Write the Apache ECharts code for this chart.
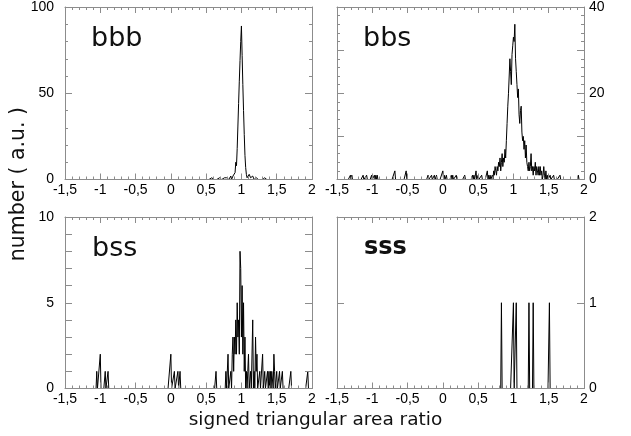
<!DOCTYPE html>
<html>
<head>
<meta charset="utf-8">
<script src="https://cdn.jsdelivr.net/npm/echarts@6/dist/echarts.min.js"></script>
<style>
  html, body { margin: 0; padding: 0; background: #fff; }
  #chart { width: 631px; height: 436px; }
</style>
</head>
<body>
<div id="chart"></div>
<script>
// histogram bins, width 0.01, from -1.5 to 2 ; only the non-empty bins are listed
var xMin = -1.5, xMax = 2;
var xTickStep = 0.5;

var bbbBins = [
  [0.58, 1], [0.62, 1], [0.66, 1], [0.69, 1], [0.73, 1], [0.76, 1], [0.79, 1], [0.81, 2],
  [0.83, 1], [0.85, 2], [0.87, 1], [0.88, 2], [0.89, 1], [0.90, 3], [0.91, 4], [0.92, 10],
  [0.93, 8], [0.94, 18], [0.95, 31], [0.96, 44], [0.97, 57], [0.98, 69], [0.99, 80], [1.00, 89],
  [1.01, 72], [1.02, 55], [1.03, 40], [1.04, 26], [1.05, 14], [1.06, 7], [1.07, 3], [1.08, 1],
  [1.09, 2], [1.10, 1], [1.11, 3], [1.12, 2], [1.13, 1], [1.14, 2], [1.15, 1], [1.16, 2],
  [1.17, 1], [1.19, 1], [1.21, 1], [1.23, 1], [1.26, 1], [1.29, 1], [1.33, 1]
];

var bbsBins = [
  [-1.31, 1], [-1.29, 1], [-1.13, 1], [-1.08, 1], [-1.01, 1], [-0.97, 1], [-0.95, 1], [-0.93, 1],
  [-0.68, 2], [-0.52, 2], [-0.21, 1], [-0.16, 1], [-0.12, 1], [-0.09, 1], [0.00, 2], [0.02, 1],
  [0.05, 1], [0.12, 1], [0.14, 1], [0.19, 1], [0.31, 1], [0.42, 1], [0.44, 1], [0.47, 2],
  [0.50, 1], [0.55, 1], [0.63, 2], [0.65, 1], [0.67, 1], [0.70, 1], [0.72, 2], [0.73, 1],
  [0.74, 3], [0.75, 2], [0.76, 1], [0.77, 3], [0.78, 2], [0.79, 4], [0.80, 3], [0.81, 5],
  [0.82, 2], [0.83, 4], [0.84, 6], [0.85, 3], [0.86, 5], [0.87, 4], [0.88, 7], [0.89, 5],
  [0.90, 9], [0.91, 13], [0.92, 17], [0.93, 20], [0.94, 24], [0.95, 28], [0.96, 25], [0.97, 22],
  [0.98, 29], [0.99, 31], [1.00, 33], [1.01, 32], [1.02, 36], [1.03, 28], [1.04, 25], [1.05, 22],
  [1.06, 19], [1.07, 21], [1.08, 15], [1.09, 13], [1.10, 16], [1.11, 17], [1.12, 11], [1.13, 9],
  [1.14, 10], [1.15, 7], [1.16, 9], [1.17, 5], [1.18, 8], [1.19, 4], [1.20, 3], [1.21, 2],
  [1.22, 4], [1.23, 2], [1.24, 3], [1.25, 6], [1.26, 2], [1.27, 3], [1.28, 1], [1.29, 3],
  [1.30, 2], [1.31, 4], [1.32, 1], [1.33, 3], [1.34, 2], [1.35, 1], [1.36, 3], [1.37, 1],
  [1.38, 3], [1.39, 1], [1.40, 2], [1.42, 1], [1.43, 3], [1.44, 1], [1.46, 2], [1.48, 1],
  [1.52, 1], [1.57, 1], [1.66, 1], [1.92, 1]
];

var bssBins = [
  [-1.05, 1], [-1.00, 2], [-0.93, 1], [-0.89, 1], [0.00, 2], [0.05, 1], [0.10, 1], [0.13, 1],
  [0.64, 1], [0.78, 1], [0.81, 2], [0.85, 1], [0.87, 2], [0.88, 3], [0.89, 1], [0.90, 3],
  [0.91, 2], [0.92, 4], [0.93, 2], [0.94, 5], [0.95, 3], [0.96, 4], [0.97, 2], [0.98, 8],
  [0.99, 7], [1.00, 3], [1.01, 6], [1.02, 2], [1.03, 5], [1.04, 1], [1.05, 3], [1.07, 1],
  [1.09, 1], [1.10, 2], [1.13, 1], [1.16, 4], [1.18, 1], [1.20, 3], [1.21, 1], [1.22, 2],
  [1.26, 1], [1.30, 2], [1.33, 1], [1.37, 1], [1.39, 1], [1.41, 1], [1.43, 1], [1.44, 1],
  [1.46, 2], [1.47, 1], [1.50, 1], [1.54, 1], [1.58, 1], [1.70, 1], [1.94, 1]
];

var sssBins = [
  [0.83, 1], [1.00, 1], [1.04, 1], [1.22, 1], [1.28, 1], [1.51, 1]
];

var panelNames = ['bbb', 'bbs', 'bss', 'sss'];
var yMaxes = [100, 40, 10, 2];
var yTickSteps = [50, 10, 1, 1];
var yLabelValues = [[0, 50, 100], [0, 20, 40], [0, 5, 10], [0, 1, 2]];

var grey = '#8c8c8c';
var tickFont = 'Liberation Sans';

// expand the listed bins to the full 0.01 grid, empty bins are zero
function fillBins(pairs) {
  var map = {};
  pairs.forEach(function (p) { map[Math.round(p[0] * 100)] = p[1]; });
  var out = [];
  for (var i = Math.round(xMin * 100); i <= Math.round(xMax * 100); i++) {
    out.push([i / 100, map[i] || 0]);
  }
  return out;
}

var allBins = [bbbBins, bbsBins, bssBins, sssBins];

// half pixel heights so the zero level sits right under the grey frame line
var grids = [
  { left: 65, top: 6, width: 247, height: 173.5 },
  { left: 337, top: 6, width: 247, height: 173.5 },
  { left: 65, top: 217, width: 247, height: 171.5 },
  { left: 337, top: 217, width: 247, height: 171.5 }
];

var xAxes = [], yAxes = [], series = [];

grids.forEach(function (g, i) {
  // bottom x axis with labels, top one only ticks
  ['bottom', 'top'].forEach(function (pos) {
    xAxes.push({
      type: 'value', gridIndex: i, position: pos,
      min: xMin, max: xMax, interval: xTickStep,
      z: 3,
      axisLine: { show: true, onZero: false, lineStyle: { color: grey, width: 1 } },
      axisTick: { show: true, inside: true, length: 6, lineStyle: { color: grey } },
      minorTick: { show: true, splitNumber: 5, length: 3, lineStyle: { color: grey } },
      splitLine: { show: false },
      axisLabel: {
        show: pos === 'bottom', color: '#000', fontSize: 14, fontFamily: tickFont, margin: 4,
        formatter: function (v) { return String(v).replace('.', ','); }
      }
    });
  });
  var labelSide = (i % 2 === 0) ? 'left' : 'right';
  var labels = yLabelValues[i];
  ['left', 'right'].forEach(function (pos) {
    yAxes.push({
      type: 'value', gridIndex: i, position: pos,
      min: 0, max: yMaxes[i], interval: yTickSteps[i],
      z: 3,
      axisLine: { show: true, onZero: false, lineStyle: { color: grey, width: 1 } },
      axisTick: { show: true, inside: true, length: 7, lineStyle: { color: grey } },
      minorTick: { show: i < 2, splitNumber: 5, length: 3, lineStyle: { color: grey } },
      splitLine: { show: false },
      axisLabel: {
        show: pos === labelSide, color: '#000', fontSize: 14, fontFamily: tickFont,
        margin: pos === 'left' ? 11 : 5,
        formatter: function (v) { return labels.indexOf(v) >= 0 ? String(v) : ''; }
      }
    });
  });
  series.push({
    name: panelNames[i],
    type: 'line',
    xAxisIndex: i * 2,
    yAxisIndex: i * 2,
    data: fillBins(allBins[i]),
    showSymbol: false,
    symbol: 'none',
    lineStyle: { color: '#000', width: 1 },
    z: 2
  });
});

var chart = echarts.init(document.getElementById('chart'));
chart.setOption({
  animation: false,
  backgroundColor: '#fff',
  grid: grids,
  xAxis: xAxes,
  yAxis: yAxes,
  series: series,
  graphic: [
    { type: 'text', left: 91, top: 25, style: { text: 'bbb', font: '27px "DejaVu Sans"', fill: '#111' } },
    { type: 'text', left: 363, top: 25, style: { text: 'bbs', font: '27px "DejaVu Sans"', fill: '#111' } },
    { type: 'text', left: 92, top: 235, style: { text: 'bss', font: '27px "DejaVu Sans"', fill: '#111' } },
    { type: 'text', left: 364, top: 236, style: { text: 'sss', font: 'bold 24px "DejaVu Sans"', fill: '#111' } },
    { type: 'text', left: 'center', top: 411, style: { text: 'signed triangular area ratio', font: '18.5px "DejaVu Sans"', fill: '#111' } },
    { type: 'text', left: 8, top: 107, rotation: Math.PI / 2, originX: 0, originY: 0,
      style: { text: 'number ( a.u. )', font: '20.5px "DejaVu Sans"', fill: '#111' } }
  ]
});
</script>
</body>
</html>
